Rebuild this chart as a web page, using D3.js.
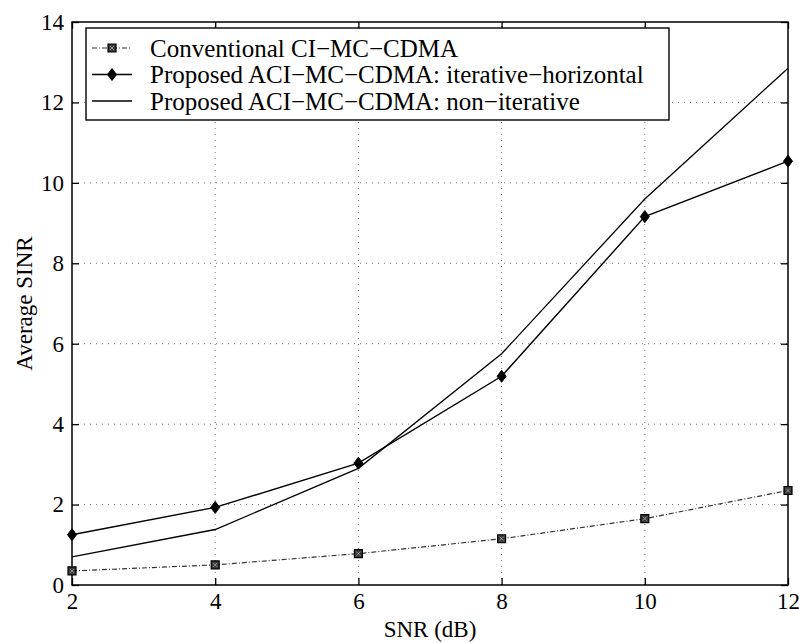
<!DOCTYPE html>
<html>
<head>
<meta charset="utf-8">
<script src="https://cdn.jsdelivr.net/npm/d3@7/dist/d3.min.js"></script>
<style>
  html, body { margin: 0; padding: 0; background: #fff; }
  svg { display: block; font-family: "Liberation Serif", "Times New Roman", serif; }
</style>
</head>
<body>
<svg id="chart" width="799" height="643"></svg>
<script>
// SNR points (dB)
const snr = [2, 4, 6, 8, 10, 12];
// Average SINR for each receiver
const conventional = [0.35, 0.50, 0.78, 1.15, 1.65, 2.35];
const iterativeHorizontal = [1.25, 1.93, 3.03, 5.19, 9.16, 10.54];
const nonIterative = [0.70, 1.38, 2.90, 5.75, 9.60, 12.85];

const xTicks = [2, 4, 6, 8, 10, 12];
const yTicks = [0, 2, 4, 6, 8, 10, 12, 14];

const legendLabels = [
  "Conventional CI\u2212MC\u2212CDMA",
  "Proposed ACI\u2212MC\u2212CDMA: iterative\u2212horizontal",
  "Proposed ACI\u2212MC\u2212CDMA: non\u2212iterative"
];

const margin = { left: 72, right: 11, top: 22, bottom: 58 };
const W = 799, H = 643;
const svg = d3.select("#chart");

const x = d3.scaleLinear().domain([2, 12]).range([margin.left, W - margin.right]);
const y = d3.scaleLinear().domain([0, 14]).range([H - margin.bottom, margin.top]);

const x0 = x.range()[0], x1 = x.range()[1];
const y0 = y.range()[0], y1 = y.range()[1];

// dotted grid
const grid = svg.append("g").attr("stroke", "#777").attr("stroke-width", 1)
  .attr("stroke-dasharray", "1,5");
grid.selectAll(".gx").data(xTicks.slice(1, -1)).join("line")
  .attr("x1", d => x(d)).attr("x2", d => x(d)).attr("y1", y0).attr("y2", y1);
grid.selectAll(".gy").data(yTicks.slice(1, -1)).join("line")
  .attr("y1", d => y(d)).attr("y2", d => y(d)).attr("x1", x0).attr("x2", x1);

// axes with inward ticks on all four sides
const tickLen = 7;
const axB = svg.append("g").attr("transform", `translate(0,${y0})`)
  .call(d3.axisBottom(x).tickValues(xTicks).tickSize(-tickLen).tickPadding(7));
const axT = svg.append("g").attr("transform", `translate(0,${y1})`)
  .call(d3.axisTop(x).tickValues(xTicks).tickSize(-tickLen).tickFormat(""));
const axL = svg.append("g").attr("transform", `translate(${x0},0)`)
  .call(d3.axisLeft(y).tickValues(yTicks).tickSize(-tickLen).tickPadding(8));
const axR = svg.append("g").attr("transform", `translate(${x1},0)`)
  .call(d3.axisRight(y).tickValues(yTicks).tickSize(-tickLen).tickFormat(""));
[axB, axT, axL, axR].forEach(a => {
  a.select(".domain").remove();
  a.selectAll("line").attr("stroke", "#000").attr("stroke-width", 1.3);
  a.selectAll("text").attr("fill", "#000").style("font-size", "23px")
    .style("font-family", "Liberation Serif, serif");
});
axB.selectAll("text").attr("dy", "0.75em");

// frame
svg.append("rect").attr("x", x0).attr("y", y1)
  .attr("width", x1 - x0).attr("height", y0 - y1)
  .attr("fill", "none").attr("stroke", "#000").attr("stroke-width", 1.5);

// series
const line = d3.line().x((d, i) => x(snr[i])).y(d => y(d));

svg.append("path").datum(conventional).attr("d", line)
  .attr("fill", "none").attr("stroke", "#333").attr("stroke-width", 1.2)
  .attr("stroke-dasharray", "5,2,1,2");
svg.append("path").datum(iterativeHorizontal).attr("d", line)
  .attr("fill", "none").attr("stroke", "#000").attr("stroke-width", 1.4);
svg.append("path").datum(nonIterative).attr("d", line)
  .attr("fill", "none").attr("stroke", "#000").attr("stroke-width", 1.3);

const squareSym = d3.symbol().type(d3.symbolSquare).size(64);
const diamondPath = "M0,-6L4.5,0L0,6L-4.5,0Z";

function drawSquare(g, cx, cy) {
  g.append("path").attr("d", squareSym()).attr("transform", `translate(${cx},${cy})`)
    .attr("fill", "#3a3a3a").attr("stroke", "#000").attr("stroke-width", 1.2);
  g.append("path").attr("d", "M-2,-2L2,2M-2,2L2,-2").attr("transform", `translate(${cx},${cy})`)
    .attr("stroke", "#aaa").attr("stroke-width", 0.8);
}
function drawDiamond(g, cx, cy) {
  g.append("path").attr("d", diamondPath).attr("transform", `translate(${cx},${cy})`)
    .attr("fill", "#000").attr("stroke", "#000").attr("stroke-width", 1);
}

const marks = svg.append("g");
conventional.forEach((v, i) => drawSquare(marks, x(snr[i]), y(v)));
iterativeHorizontal.forEach((v, i) => drawDiamond(marks, x(snr[i]), y(v)));

// legend
const lg = svg.append("g");
const lgX = 86, lgY = 28, lgW = 583, lgH = 92, rowH = 26.5;
lg.append("rect").attr("x", lgX).attr("y", lgY).attr("width", lgW).attr("height", lgH)
  .attr("fill", "#fff").attr("stroke", "#000").attr("stroke-width", 1.4);
legendLabels.forEach((label, i) => {
  const cy = lgY + 20 + i * rowH;
  const seg = lg.append("line").attr("x1", lgX + 6).attr("x2", lgX + 46)
    .attr("y1", cy).attr("y2", cy).attr("stroke", "#000").attr("stroke-width", 1.3);
  if (i === 0) { seg.attr("stroke", "#333").attr("stroke-width", 1.1).attr("stroke-dasharray", "5,2,1,2"); drawSquare(lg, lgX + 26, cy); }
  if (i === 1) drawDiamond(lg, lgX + 26, cy);
  lg.append("text").attr("x", lgX + 64).attr("y", cy).attr("dy", "0.35em")
    .style("font-size", "25px").attr("fill", "#000").text(label);
});

// axis titles
svg.append("text").attr("x", (x0 + x1) / 2).attr("y", 637)
  .attr("text-anchor", "middle").style("font-size", "23px").text("SNR (dB)");
svg.append("text").attr("transform", `translate(32,${(y0 + y1) / 2}) rotate(-90)`)
  .attr("text-anchor", "middle").style("font-size", "23px").text("Average SINR");
</script>
</body>
</html>
